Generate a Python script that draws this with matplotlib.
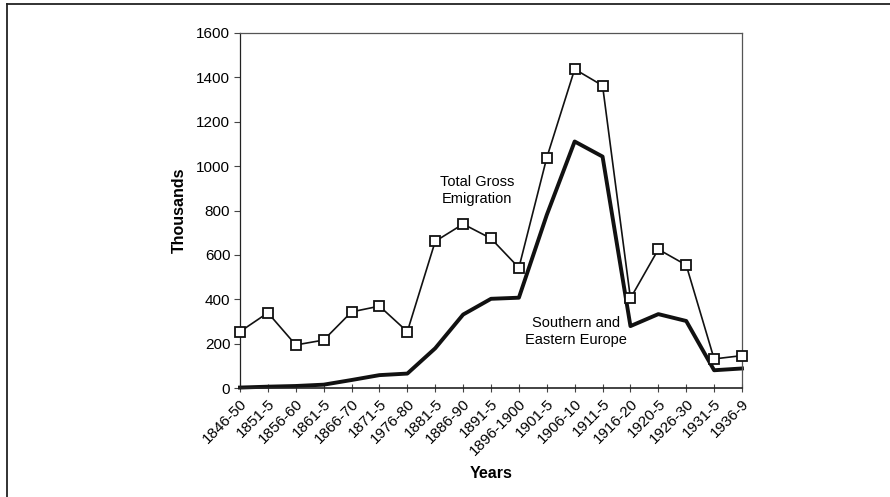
import matplotlib.pyplot as plt
from matplotlib.lines import Line2D

periods = ["1846-50", "1851-5", "1856-60", "1861-5", "1866-70", "1871-5", "1976-80",
           "1881-5", "1886-90", "1891-5", "1896-1900", "1901-5", "1906-10", "1911-5",
           "1916-20", "1920-5", "1926-30", "1931-5", "1936-9"]
total = [254, 339, 194, 216, 343, 369, 254, 661, 739, 674, 542, 1038, 1437, 1363,
         404, 625, 554, 131, 146]
southern = [2, 6, 9, 15, 36, 58, 65, 179, 331, 402, 407, 780, 1111, 1043,
            279, 333, 302, 80, 88]

plt.rcParams['font.family'] = ['Liberation Sans', 'DejaVu Sans']

fig = plt.figure(figsize=(8.9, 4.97), dpi=100)
ax = fig.add_axes([240/890, 109/497, 502/890, 355/497])

x = list(range(len(periods)))
ax.plot(x, total, color='#111111', lw=1.2, marker='s', ms=6.5, mfc='white',
        mec='#111111', mew=1.3, clip_on=False, zorder=3)
ax.plot(x, southern, color='#111111', lw=2.8, clip_on=False, zorder=2)

ax.set_xlim(0, len(periods) - 1)
ax.set_ylim(0, 1600)
ax.set_yticks(range(0, 1601, 200))
ax.set_xticks(x)
ax.set_xticklabels(periods, rotation=45, ha='right', rotation_mode='anchor', fontsize=11)
ax.tick_params(axis='y', labelsize=11, length=4, width=0.8, color='#444444', pad=3)
ax.tick_params(axis='x', direction='inout', length=6, width=0.8, color='#444444', pad=3)

for s in ax.spines.values():
    s.set_color('#555555')
    s.set_linewidth(0.9)
ax.spines['left'].set_color('#222222')
ax.spines['bottom'].set_color('#222222')
ax.spines['bottom'].set_linewidth(1.2)

ax.set_ylabel("Thousands", fontsize=11.5, fontweight='bold', labelpad=7)
ax.set_xlabel("Years", fontsize=11.5, fontweight='bold', labelpad=6)

ax.text(8.5, 890, "Total Gross\nEmigration", ha='center', va='center', fontsize=10.5,
        linespacing=1.3)
ax.text(12.05, 255, "Southern and\nEastern Europe", ha='center', va='center', fontsize=10.5,
        linespacing=1.3)

# outer page frame (top and left edges)
fig.add_artist(Line2D([7/890, 1], [1 - 4/497, 1 - 4/497], color='#222222', lw=1.3,
                      transform=fig.transFigure))
fig.add_artist(Line2D([7/890, 7/890], [0, 1 - 4/497], color='#222222', lw=1.3,
                      transform=fig.transFigure))

fig.savefig("out.png", dpi=100)
